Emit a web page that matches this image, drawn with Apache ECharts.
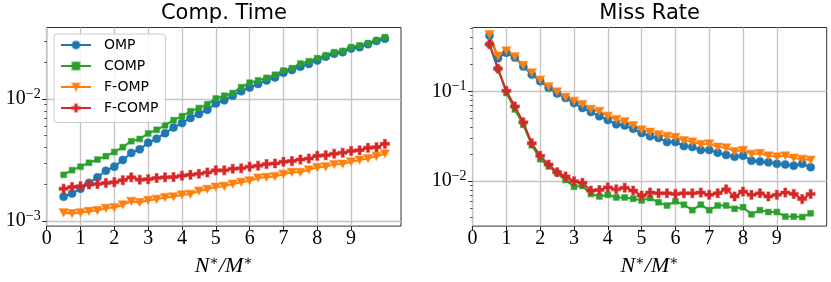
<!DOCTYPE html>
<html><head><meta charset="utf-8">
<script src="https://cdn.jsdelivr.net/npm/echarts@6/dist/echarts.min.js"></script>
<style>html,body{margin:0;padding:0;background:#fff}#c{width:831px;height:282px}</style>
</head><body><div id="c"></div><script>
// ---------- data ----------
const xValues = [0.5,0.75,1,1.25,1.5,1.75,2,2.25,2.5,2.75,3,3.25,3.5,3.75,4,4.25,4.5,4.75,5,5.25,5.5,5.75,6,6.25,6.5,6.75,7,7.25,7.5,7.75,8,8.25,8.5,8.75,9,9.25,9.5,9.75,10];
const seriesNames = ['OMP','COMP','F-OMP','F-COMP'];
const xTickValues = [0,1,2,3,4,5,6,7,8,9];

const timeOMP = [0.00158,0.00168,0.00184,0.00205,0.00228,0.00258,0.00279,0.00316,0.00361,0.00387,0.00437,0.00473,0.00525,0.00583,0.00635,0.0070,0.00755,0.00817,0.00919,0.00976,0.01064,0.0116,0.0124,0.0133,0.0142,0.0150,0.0164,0.0173,0.0184,0.0194,0.0207,0.0222,0.0235,0.0242,0.0259,0.0266,0.0281,0.0299,0.0312];
const timeCOMP = [0.00239,0.00261,0.00279,0.0030,0.00319,0.0034,0.00368,0.00403,0.00451,0.0047,0.00522,0.00559,0.00608,0.00671,0.00723,0.00793,0.00843,0.00907,0.0101,0.01064,0.0112,0.0125,0.0136,0.0142,0.0149,0.0158,0.0171,0.0179,0.0195,0.0204,0.0216,0.0228,0.0242,0.0247,0.0266,0.0275,0.0287,0.0302,0.0321];
const timeFOMP = [0.00117,0.00115,0.00117,0.0012,0.00122,0.00127,0.00129,0.00136,0.00145,0.00142,0.00148,0.00151,0.00156,0.00158,0.00164,0.00166,0.00176,0.00182,0.0019,0.00193,0.00201,0.00208,0.00214,0.00225,0.00228,0.00232,0.00242,0.00251,0.00251,0.00263,0.00275,0.00279,0.00291,0.00293,0.00306,0.00316,0.00325,0.0034,0.00356];
const timeFCOMP = [0.00184,0.0019,0.00193,0.00199,0.00201,0.00205,0.00208,0.00216,0.00228,0.00218,0.0022,0.00225,0.00228,0.00229,0.00235,0.00239,0.00244,0.0025,0.0026,0.0026,0.00268,0.0027,0.00279,0.00284,0.00293,0.00296,0.00306,0.0031,0.00319,0.00325,0.00342,0.00346,0.00356,0.00363,0.00375,0.0038,0.00398,0.00403,0.00429];

const missOMP = [0.42,0.234,0.27,0.238,0.19,0.154,0.13,0.11,0.095,0.0847,0.0741,0.0653,0.0591,0.053,0.048,0.043,0.0417,0.0383,0.0344,0.0316,0.0303,0.0274,0.0274,0.0246,0.024,0.0223,0.0223,0.0208,0.0196,0.0187,0.0192,0.0169,0.0166,0.0162,0.0156,0.0153,0.0149,0.0156,0.0143];
const missCOMP = [0.335,0.179,0.096,0.063,0.0424,0.0252,0.0176,0.0147,0.0123,0.0103,0.00868,0.00883,0.00722,0.00676,0.00705,0.00659,0.00659,0.00637,0.00611,0.00648,0.00582,0.00535,0.00596,0.00548,0.00476,0.00548,0.00476,0.00535,0.00535,0.00492,0.00513,0.00427,0.00476,0.00453,0.00453,0.00403,0.00403,0.00399,0.00438];
const missFOMP = [0.43,0.248,0.284,0.244,0.195,0.161,0.134,0.113,0.099,0.086,0.0779,0.0716,0.0632,0.0601,0.053,0.0488,0.046,0.0417,0.0374,0.0352,0.033,0.0316,0.0308,0.0284,0.0274,0.0257,0.0261,0.024,0.0236,0.0214,0.0221,0.020,0.0205,0.0192,0.0187,0.0192,0.0181,0.0176,0.0172];
const missFCOMP = [0.335,0.179,0.1017,0.068,0.0453,0.0265,0.0192,0.0153,0.0126,0.0113,0.010,0.0096,0.00785,0.00798,0.00853,0.00811,0.00847,0.00785,0.00692,0.00746,0.00734,0.00734,0.00722,0.00734,0.00734,0.00746,0.00705,0.00734,0.00811,0.00676,0.00766,0.00705,0.00734,0.00676,0.00705,0.00746,0.00722,0.00632,0.00722];

const timeMajorTicks = [0.001,0.01];
const timeMinorTicks = [0.002,0.003,0.004,0.005,0.006,0.007,0.008,0.009,0.02,0.03];
const missMajorTicks = [0.01,0.1];
const missMinorTicks = [0.004,0.005,0.006,0.007,0.008,0.009,0.02,0.03,0.04,0.05,0.06,0.07,0.08,0.09,0.2,0.3,0.4,0.5];

// ---------- styling ----------
const colors = ['#1f77b4','#2ca02c','#ff7f0e','#d62728'];
const halo = ['rgba(31,119,180,0.45)','rgba(44,160,44,0.45)','rgba(255,127,14,0.45)','rgba(214,39,40,0.45)'];
const plusPath = 'path://M-1,-3L1,-3L1,-1L3,-1L3,1L1,1L1,3L-1,3L-1,1L-3,1L-3,-1L-1,-1Z';
const symbols = ['circle','rect','triangle',plusPath];
const symbolSizes = [8,5.8,[9,8],9];
const symbolRot = [0,0,180,0];
const SERIF = '"Liberation Serif", "DejaVu Serif", serif';
const SANS = '"DejaVu Sans", sans-serif';

const grids = [
  {left:46.7, top:27.5, width:354.3, height:203.5},
  {left:472.6, top:27.5, width:354.1, height:203.5}
];

function xAxisFor(i){
  return {
    type:'value', gridIndex:i, min:0, max:10.475,
    axisLine:{show:false},
    axisTick:{show:true, length:4, customValues:xTickValues, lineStyle:{color:'#222', width:1}},
    axisLabel:{customValues:xTickValues, margin:3, fontFamily:SERIF, fontSize:20, color:'#000'},
    splitLine:{show:true, lineStyle:{color:'#c4c4c4', width:1.3}},
    name:'{i|N}{s|∗}{i|/M}{s|∗}', nameLocation:'middle', nameGap:22,
    nameTextStyle:{rich:{
      i:{fontFamily:SERIF, fontStyle:'italic', fontSize:22, color:'#000', lineHeight:24},
      s:{fontFamily:SERIF, fontSize:14, color:'#000', verticalAlign:'top', lineHeight:13}
    }}
  };
}
function yMajor(i, mn, mx, ticks){
  return {
    type:'log', logBase:10, gridIndex:i, min:mn, max:mx, position:'left',
    axisLine:{show:false},
    axisTick:{show:true, length:4.5, customValues:ticks, lineStyle:{color:'#222', width:1}},
    axisLabel:{customValues:ticks, margin:6,
      formatter:function(v){ const e = Math.round(Math.log10(v)); return '{b|10}{s|−' + Math.abs(e) + '}'; },
      rich:{
        b:{fontFamily:SERIF, fontSize:20, color:'#000', lineHeight:24},
        s:{fontFamily:SERIF, fontSize:14, color:'#000', verticalAlign:'top', lineHeight:13}
      }},
    splitLine:{show:true, lineStyle:{color:'#c4c4c4', width:1.3}}
  };
}
function yMinor(i, mn, mx, ticks){
  return {
    type:'log', logBase:10, gridIndex:i, min:mn, max:mx, position:'left', offset:0,
    axisLine:{show:false},
    axisTick:{show:true, length:2.5, customValues:ticks, lineStyle:{color:'#222', width:0.8}},
    axisLabel:{show:false}, splitLine:{show:false}
  };
}

const timeData = [timeOMP,timeCOMP,timeFOMP,timeFCOMP];
const missData = [missOMP,missCOMP,missFOMP,missFCOMP];

function makeSeries(dataArr, gi, yi){
  return dataArr.map(function(arr,k){
    return {
      type:'line', name:seriesNames[k], xAxisIndex:gi, yAxisIndex:yi,
      data: xValues.map(function(x,j){ return [x, arr[j]]; }),
      symbol:symbols[k], symbolSize:symbolSizes[k], symbolRotate:symbolRot[k],
      showAllSymbol:true, animation:false, silent:true,
      lineStyle:{color:colors[k], width:2},
      itemStyle:{color:colors[k], borderColor:halo[k], borderWidth:1.2},
      emphasis:{disabled:true}
    };
  });
}

const chart = echarts.init(document.getElementById('c'), null, {renderer:'canvas'});
chart.setOption({
  animation:false,
  backgroundColor:'#fff',
  grid: grids.map(function(g){ return Object.assign({show:true, borderColor:'#333', borderWidth:1, backgroundColor:'transparent', containLabel:false}, g); }),
  xAxis:[xAxisFor(0), xAxisFor(1)],
  yAxis:[
    yMajor(0, 0.000908, 0.03855, timeMajorTicks),
    yMinor(0, 0.000908, 0.03855, timeMinorTicks),
    yMajor(1, 0.00316, 0.515, missMajorTicks),
    yMinor(1, 0.00316, 0.515, missMinorTicks)
  ],
  legend:{
    data:seriesNames, orient:'vertical', left:54, top:34,
    itemWidth:30, itemHeight:9.5, itemGap:6,
    padding:[3.5,7,7,6],
    backgroundColor:'rgba(255,255,255,0.85)', borderColor:'#cccccc', borderWidth:1, borderRadius:3,
    textStyle:{fontFamily:SANS, fontSize:14, color:'#000', lineHeight:15, padding:[0,0,0,8]},
    selectedMode:false
  },
  graphic:[
    {type:'text', x:223.9, y:14, style:{text:'Comp. Time', font:'21px "DejaVu Sans"', fill:'#000', align:'center', verticalAlign:'middle'}},
    {type:'text', x:649.6, y:14, style:{text:'Miss Rate', font:'21px "DejaVu Sans"', fill:'#000', align:'center', verticalAlign:'middle'}}
  ],
  series: makeSeries(timeData,0,0).concat(makeSeries(missData,1,2))
});
</script></body></html>
